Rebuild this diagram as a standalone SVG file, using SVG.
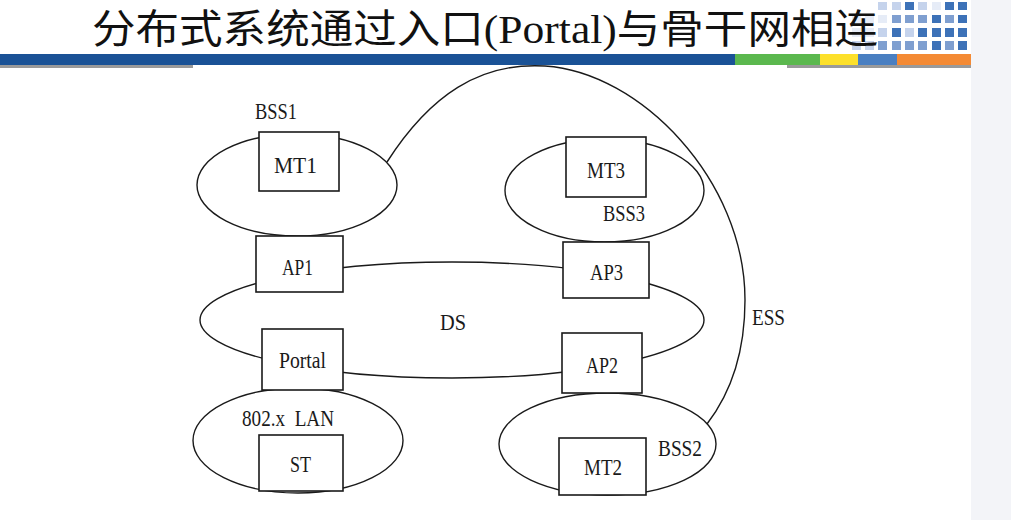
<svg xmlns="http://www.w3.org/2000/svg" width="1011" height="520" viewBox="0 0 1011 520">
<style>
.sh{fill:none;stroke:#1a1a1a;stroke-width:1.4}
.bx{fill:#fff;stroke:#1a1a1a;stroke-width:1.6}
.lb{font-family:"Liberation Serif","DejaVu Serif",serif;font-size:24px;fill:#1a1a1a}
.ttl{font-family:"Liberation Serif","Noto Sans CJK SC",serif;font-size:40px;fill:#111}
.d{fill:#3d72b8}.m{fill:#7f9fd0}.l{fill:#c5d3ec}.v{fill:#e6ecf7}
</style>
<rect width="1011" height="520" fill="#fff"/>
<rect x="971" y="0" width="40" height="520" fill="#f3f4f8"/>
<g id="decor">
<rect class="v" x="852" y="15" width="9" height="8"/><rect class="v" x="852" y="28" width="9" height="9"/><rect class="l" x="852" y="41" width="9" height="9"/>
<rect class="v" x="865" y="15" width="9" height="8"/><rect class="v" x="865" y="28" width="9" height="9"/><rect class="l" x="865" y="41" width="9" height="9"/>
<rect class="l" x="878" y="2" width="9" height="8"/><rect class="v" x="878" y="15" width="9" height="8"/><rect class="l" x="878" y="28" width="9" height="9"/><rect class="m" x="878" y="41" width="9" height="9"/>
<rect class="l" x="892" y="2" width="9" height="8"/><rect class="m" x="892" y="15" width="9" height="8"/><rect class="d" x="892" y="28" width="9" height="9"/><rect class="m" x="892" y="41" width="9" height="9"/>
<rect class="d" x="905" y="2" width="9" height="8"/><rect class="m" x="905" y="15" width="9" height="8"/><rect class="l" x="905" y="28" width="9" height="9"/><rect class="m" x="905" y="41" width="9" height="9"/>
<rect class="l" x="918" y="2" width="9" height="8"/><rect class="m" x="918" y="15" width="9" height="8"/><rect class="d" x="918" y="28" width="9" height="9"/><rect class="m" x="918" y="41" width="9" height="9"/>
<rect class="v" x="932" y="2" width="9" height="8"/><rect class="d" x="932" y="15" width="9" height="8"/><rect class="d" x="932" y="28" width="9" height="9"/><rect class="d" x="932" y="41" width="9" height="9"/>
<rect class="d" x="945" y="2" width="9" height="8"/><rect class="m" x="945" y="15" width="9" height="8"/><rect class="d" x="945" y="28" width="9" height="9"/><rect class="m" x="945" y="41" width="9" height="9"/>
<rect class="d" x="958" y="2" width="9" height="8"/><rect class="d" x="958" y="15" width="9" height="8"/><rect class="d" x="958" y="28" width="9" height="9"/><rect class="d" x="958" y="41" width="9" height="9"/>
</g>
<text class="ttl" x="92" y="43" textLength="786" lengthAdjust="spacingAndGlyphs">分布式系统通过入口(Portal)与骨干网相连</text>
<g id="bar">
<rect x="0" y="54" width="735" height="11" fill="#1a5296"/>
<rect x="735" y="54" width="85" height="11" fill="#5bb84e"/>
<rect x="820" y="54" width="38" height="11" fill="#fde02a"/>
<rect x="858" y="54" width="39" height="11" fill="#4a7fc1"/>
<rect x="897" y="54" width="74" height="11" fill="#f48a34"/>
<rect x="0" y="65" width="193" height="3" fill="#9a9a9a"/>
<rect x="787" y="65" width="184" height="3" fill="#9a9a9a"/>
</g>
<g id="DS"><ellipse class="sh" cx="452" cy="320" rx="252" ry="58"/><text class="lb" x="440" y="330" textLength="26" lengthAdjust="spacingAndGlyphs">DS</text></g>
<g id="BSS1"><ellipse class="sh" cx="297" cy="185" rx="100" ry="51"/><text class="lb" x="255" y="119" textLength="42" lengthAdjust="spacingAndGlyphs">BSS1</text></g>
<g id="BSS3"><ellipse class="sh" cx="604.5" cy="190.5" rx="99.5" ry="51.5"/><text class="lb" x="603" y="221" textLength="42" lengthAdjust="spacingAndGlyphs">BSS3</text></g>
<g id="BSS2"><ellipse class="sh" cx="607.5" cy="444" rx="108.5" ry="51"/><text class="lb" x="658" y="456" textLength="44" lengthAdjust="spacingAndGlyphs">BSS2</text></g>
<g id="LAN"><ellipse class="sh" cx="298" cy="440.5" rx="105" ry="52.5"/><text class="lb" x="242" y="426" textLength="92" lengthAdjust="spacingAndGlyphs" xml:space="preserve">802.x  LAN</text></g>
<g id="connectors">
<path id="ESS-link" class="sh" d="M387,162 C430,95 480,62 545,66 C640,72 745,180 745,300 C745,360 727,398 707,424"/>
</g>
<g id="ESS"><text class="lb" x="752" y="325" textLength="33" lengthAdjust="spacingAndGlyphs">ESS</text></g>
<g id="MT1"><rect class="bx" x="259" y="132" width="80" height="59"/><text class="lb" x="274" y="173" textLength="43" lengthAdjust="spacingAndGlyphs">MT1</text></g>
<g id="AP1"><rect class="bx" x="256" y="236" width="87" height="56"/><text class="lb" x="282" y="275" textLength="31" lengthAdjust="spacingAndGlyphs">AP1</text></g>
<g id="MT3"><rect class="bx" x="566" y="137" width="80" height="60"/><text class="lb" x="587" y="178" textLength="38" lengthAdjust="spacingAndGlyphs">MT3</text></g>
<g id="AP3"><rect class="bx" x="563" y="242" width="86" height="56"/><text class="lb" x="590" y="280" textLength="33" lengthAdjust="spacingAndGlyphs">AP3</text></g>
<g id="Portal"><rect class="bx" x="262" y="329" width="81" height="61"/><text class="lb" x="279" y="368" textLength="47" lengthAdjust="spacingAndGlyphs">Portal</text></g>
<g id="AP2"><rect class="bx" x="562" y="333" width="80" height="60"/><text class="lb" x="586" y="373" textLength="32" lengthAdjust="spacingAndGlyphs">AP2</text></g>
<g id="ST"><rect class="bx" x="259" y="435" width="84" height="56"/><text class="lb" x="290" y="472" textLength="21" lengthAdjust="spacingAndGlyphs">ST</text></g>
<g id="MT2"><rect class="bx" x="559" y="438" width="87" height="57"/><text class="lb" x="584" y="475" textLength="38" lengthAdjust="spacingAndGlyphs">MT2</text></g>
</svg>
